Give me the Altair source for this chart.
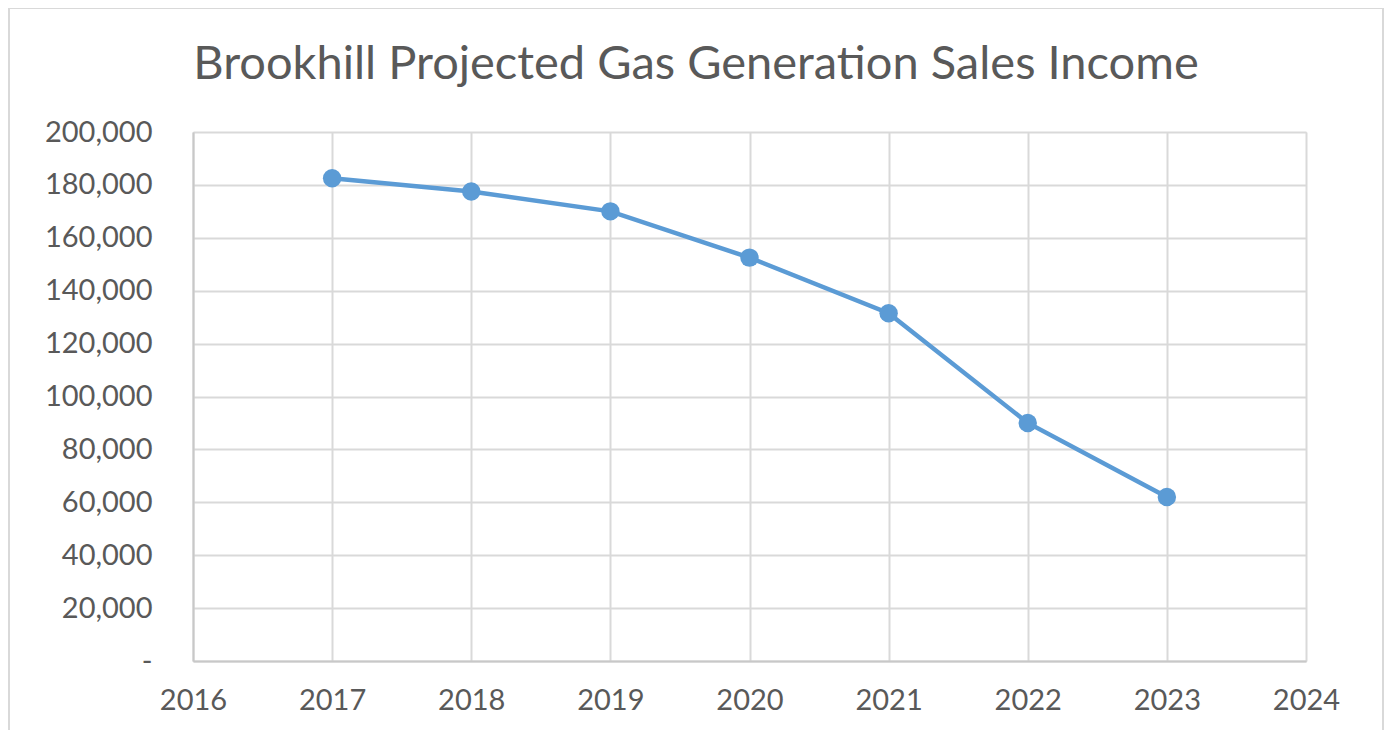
import altair as alt
import pandas as pd

years = [2017, 2018, 2019, 2020, 2021, 2022, 2023]
income = [182500, 177500, 170000, 152500, 131500, 90000, 62000]
x_ticks = [2016, 2017, 2018, 2019, 2020, 2021, 2022, 2023, 2024]
y_ticks = [0, 20000, 40000, 60000, 80000, 100000, 120000, 140000, 160000, 180000, 200000]
title_text = "Brookhill Projected Gas Generation Sales Income"

df = pd.DataFrame({"year": years, "income": income})

FONT = "Lato"
GRAY = "#595959"
BLUE = "#5b9bd5"

x = alt.X("year:Q", scale=alt.Scale(domain=[2016, 2024], nice=False, zero=False),
          axis=alt.Axis(values=x_ticks, format="d", title=None, grid=True,
                        gridColor="#d9d9d9", gridWidth=2, ticks=False,
                        domainColor="#c8c8c8", domainWidth=2,
                        labelFont=FONT, labelFontSize=29, labelColor=GRAY,
                        labelPadding=25, labelFlush=False))
y = alt.Y("income:Q", scale=alt.Scale(domain=[0, 200000], nice=False),
          axis=alt.Axis(values=y_ticks, title=None, grid=True,
                        gridColor="#d9d9d9", gridWidth=2, ticks=False,
                        domainColor="#c8c8c8", domainWidth=2,
                        labelExpr="datum.value == 0 ? '-' : format(datum.value, ',')",
                        labelFont=FONT, labelFontSize=29, labelColor=GRAY,
                        labelPadding=41))

line = alt.Chart(df).mark_line(color=BLUE, strokeWidth=4.5).encode(x=x, y=y)
pts = alt.Chart(df).mark_point(filled=True, color=BLUE, size=340, opacity=1, shape="circle").encode(x=x, y=y)

border = alt.Chart(df).mark_rect(fill=None, stroke="#d9d9d9", strokeWidth=2, clip=False).encode(
    x=alt.value(-184), x2=alt.value(1190), y=alt.value(-124), y2=alt.value(620))

title = alt.Chart(pd.DataFrame({"t": [title_text]})).mark_text(
    font=FONT, fontSize=47, color=GRAY, align="center", baseline="alphabetic").encode(
    x=alt.value(503), y=alt.value(-53), text="t:N")

chart = alt.layer(border, line, pts, title).properties(
    width=1113, height=529,
    autosize=alt.AutoSizeParams(type="none"),
    padding={"left": 185, "top": 124, "right": 78, "bottom": 69},
).configure_view(stroke=None).configure(background="white")

chart.save("out.html", embed_options={"renderer": "svg", "actions": False})
